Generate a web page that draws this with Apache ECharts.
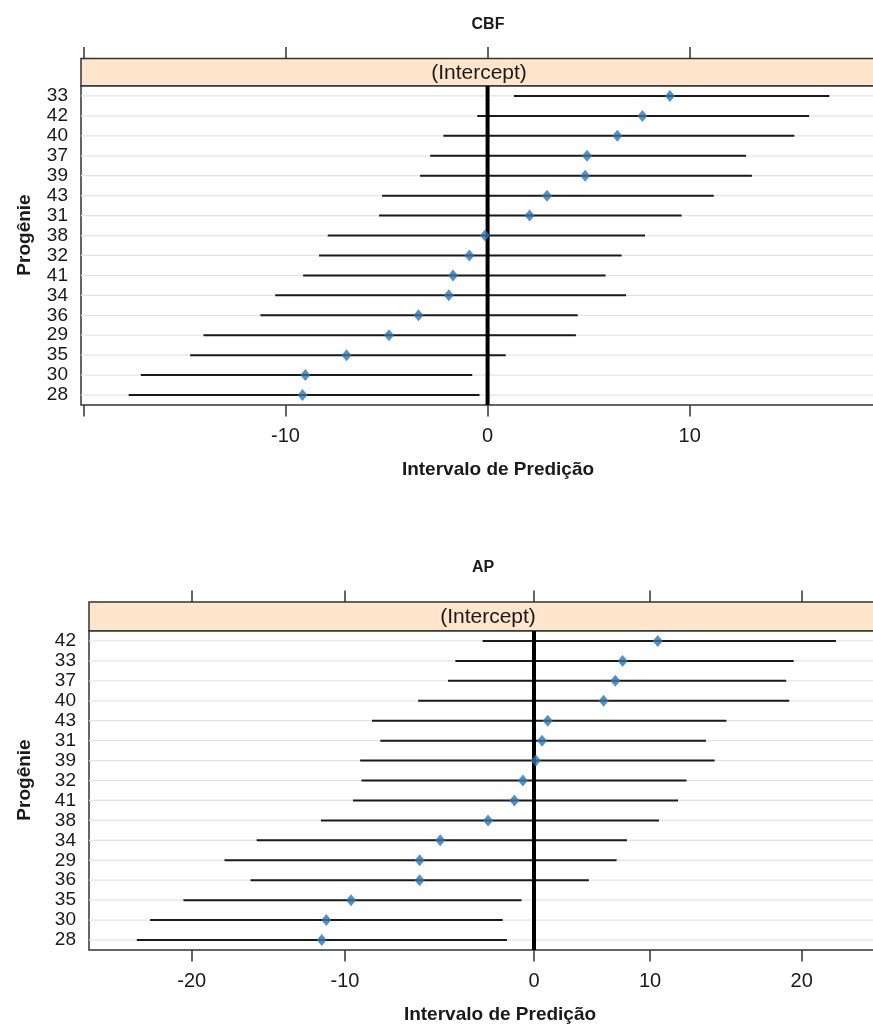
<!DOCTYPE html>
<html><head><meta charset="utf-8">
<script src="https://cdn.jsdelivr.net/npm/echarts@6/dist/echarts.min.js"></script>
<style>html,body{margin:0;padding:0;background:#fff}#c{width:873px;height:1030px}</style>
</head><body><div id="c"></div>
<script>
// ---------- DATA ----------
const cbfCategories = ['33','42','40','37','39','43','31','38','32','41','34','36','29','35','30','28'];
const cbfEstimate = [9.02, 7.66, 6.42, 4.92, 4.83, 2.94, 2.08, -0.13, -0.90, -1.71, -1.92, -3.42, -4.88, -6.98, -9.02, -9.16];
const cbfLower    = [1.30, -0.51, -2.19, -2.84, -3.34, -5.22, -5.37, -7.91, -8.34, -9.13, -10.51, -11.24, -14.06, -14.72, -17.16, -17.76];
const cbfUpper    = [16.91, 15.91, 15.18, 12.79, 13.08, 11.19, 9.60, 7.79, 6.63, 5.84, 6.85, 4.46, 4.37, 0.90, -0.76, -0.40];

const apCategories = ['42','33','37','40','43','31','39','32','41','38','34','29','36','35','30','28'];
const apEstimate = [10.51, 7.64, 7.01, 6.00, 1.18, 0.69, 0.16, -0.59, -1.04, -2.43, -4.96, -6.05, -6.05, -9.68, -11.22, -11.52];
const apLower    = [-2.72, -4.16, -4.55, -6.13, -8.57, -8.13, -9.20, -9.13, -9.58, -11.57, -15.76, -17.86, -16.16, -20.54, -22.71, -23.58];
const apUpper    = [22.26, 19.47, 18.98, 19.18, 15.04, 13.69, 14.26, 12.41, 11.85, 10.59, 8.01, 7.12, 4.73, -0.66, -1.66, -1.43];

const cbfTicks = [-20, -10, 0, 10, 20];
const cbfTickLabels = [-10, 0, 10];
const apTicks = [-20, -10, 0, 10, 20];
const apTickLabels = [-20, -10, 0, 10, 20];
const cbfRange = [-20.12, 21.15];
// the AP axis in the picture is piecewise: each piece has its own linear scale
const apPieces = [[-26.70, -10], [-10, 0], [0, 10], [10, 27.21]];

const panelTitles = ['CBF', 'AP'];
const stripText = '(Intercept)';
const yName = 'Progênie';
const xName = 'Intervalo de Predição';

// ---------- STYLE / LAYOUT ----------
const INK = '#1a1a1a', FRAME = '#333333', POINT = '#2c76b8', GRIDLINE = '#e3e3e3', STRIP = '#ffe5cc';
const FONT = "'Liberation Sans', Arial, sans-serif";
const cbfLayout = {left: 81, width: 834, stripTop: 58.5, top: 86, height: 319};
const apLayout = {left: 89, width: 822, stripTop: 602, top: 631, height: 319};
const apPiecePx = [[89, 345], [345, 534], [534, 650], [650, 911]];

const grids = [], xAxes = [], yAxes = [], series = [];

function addGrid(g) { grids.push(Object.assign({outerBoundsMode: 'none', containLabel: false}, g)); return grids.length - 1; }

function tickAxis(gi, min, max, pos, ticks, labels, offset) {
  const inTicks = ticks.filter(v => v >= min && v < max);
  const ax = {
    gridIndex: gi, type: 'value', position: pos, min: min, max: max, offset: offset || 0,
    axisLine: {show: false}, splitLine: {show: false},
    axisTick: {show: inTicks.length > 0, customValues: inTicks, length: 11.5, inside: false, lineStyle: {color: FRAME, width: 1.5}},
    axisLabel: {show: false}
  };
  if (labels) {
    const inLabels = labels.filter(v => v >= min && v < max);
    ax.axisLabel = {show: inLabels.length > 0, customValues: inLabels, margin: 21, fontSize: 20, fontFamily: FONT, color: INK};
  }
  xAxes.push(ax); return xAxes.length - 1;
}

function catAxis(gi, cats, showLabels) {
  yAxes.push({gridIndex: gi, type: 'category', data: cats, inverse: true, show: showLabels,
    axisLine: {show: false}, axisTick: {show: false}, splitLine: {show: false},
    axisLabel: {show: showLabels, interval: 0, fontSize: 19, fontFamily: FONT, color: INK, margin: 13}});
  return yAxes.length - 1;
}
function hiddenValueAxis(list, gi) { list.push({gridIndex: gi, type: 'value', show: false, min: 0, max: 1, splitLine: {show: false}}); return list.length - 1; }

function gridLines(xi, yi, cats) {
  series.push({type: 'custom', xAxisIndex: xi, yAxisIndex: yi, z: 1, silent: true, clip: false,
    data: cats.map(c => [0, c]), encode: {x: 0, y: 1},
    renderItem(params, api) {
      const cs = params.coordSys; const y = api.coord([api.value(0), api.value(1)])[1];
      return {type: 'line', shape: {x1: cs.x, y1: y, x2: cs.x + cs.width, y2: y}, style: {stroke: GRIDLINE, lineWidth: 1.3}};
    }});
}
function intervals(xi, yi, cats, lo, hi) {
  series.push({type: 'custom', xAxisIndex: xi, yAxisIndex: yi, z: 2, silent: true, clip: true,
    data: cats.map((c, i) => [lo[i], hi[i], c]), encode: {x: [0, 1], y: 2},
    renderItem(params, api) {
      const a = api.coord([api.value(0), api.value(2)]); const b = api.coord([api.value(1), api.value(2)]);
      return {type: 'line', shape: {x1: a[0], y1: a[1], x2: b[0], y2: b[1]}, style: {stroke: INK, lineWidth: 2}};
    }});
}
function zeroLine(xi, yi, cats) {
  series.push({type: 'custom', xAxisIndex: xi, yAxisIndex: yi, z: 3, silent: true, clip: false,
    data: [[0, cats[0]]], encode: {x: 0, y: 1},
    renderItem(params, api) {
      const cs = params.coordSys; const x = api.coord([0, api.value(1)])[0];
      return {type: 'line', shape: {x1: x, y1: cs.y, x2: x, y2: cs.y + cs.height}, style: {stroke: '#000', lineWidth: 4}};
    }});
}
function points(xi, yi, cats, est, keep) {
  series.push({type: 'scatter', xAxisIndex: xi, yAxisIndex: yi, z: 4, silent: true, clip: false,
    symbol: 'diamond', symbolSize: [10, 12], itemStyle: {color: POINT},
    data: cats.map((c, i) => [est[i], c]).filter(d => keep(d[0]))});
}
const xNameStyle = {fontSize: 19, fontWeight: 'bold', fontFamily: FONT, color: INK};

// ---------- CBF panel ----------
const cS = addGrid({left: cbfLayout.left, width: cbfLayout.width, top: cbfLayout.stripTop, height: cbfLayout.top - cbfLayout.stripTop,
  show: true, backgroundColor: STRIP, borderColor: FRAME, borderWidth: 1.5});
hiddenValueAxis(xAxes, cS); hiddenValueAxis(yAxes, cS);
const cM = addGrid({left: cbfLayout.left, width: cbfLayout.width, top: cbfLayout.top, height: cbfLayout.height,
  show: true, backgroundColor: '#fff', borderColor: FRAME, borderWidth: 1.5});
const cX = tickAxis(cM, cbfRange[0], cbfRange[1] + 1e-9, 'bottom', cbfTicks, cbfTickLabels);
Object.assign(xAxes[cX], {name: xName, nameLocation: 'middle', nameGap: 55, nameTextStyle: xNameStyle});
tickAxis(cM, cbfRange[0], cbfRange[1] + 1e-9, 'top', cbfTicks, null, cbfLayout.top - cbfLayout.stripTop);
const cY = catAxis(cM, cbfCategories, true);
gridLines(cX, cY, cbfCategories);
intervals(cX, cY, cbfCategories, cbfLower, cbfUpper);
zeroLine(cX, cY, cbfCategories);
points(cX, cY, cbfCategories, cbfEstimate, () => true);

// ---------- AP panel ----------
const aS = addGrid({left: apLayout.left, width: apLayout.width, top: apLayout.stripTop, height: apLayout.top - apLayout.stripTop,
  show: true, backgroundColor: STRIP, borderColor: FRAME, borderWidth: 1.5});
hiddenValueAxis(xAxes, aS); hiddenValueAxis(yAxes, aS);
const aF = addGrid({left: apLayout.left, width: apLayout.width, top: apLayout.top, height: apLayout.height,
  show: true, backgroundColor: '#fff', borderColor: FRAME, borderWidth: 1.5});
xAxes.push({gridIndex: aF, type: 'value', min: 0, max: 1, axisLine: {show: false}, axisTick: {show: false},
  axisLabel: {show: false}, splitLine: {show: false}, name: xName, nameLocation: 'middle', nameGap: 55, nameTextStyle: xNameStyle});
const aFX = xAxes.length - 1;
const aFY = catAxis(aF, apCategories, true);
gridLines(aFX, aFY, apCategories);
apPieces.forEach((piece, k) => {
  const px = apPiecePx[k];
  const g = addGrid({left: px[0], width: px[1] - px[0], top: apLayout.top, height: apLayout.height, show: false});
  const last = k === apPieces.length - 1;
  const xb = tickAxis(g, piece[0], piece[1] + (last ? 1e-9 : 0), 'bottom', apTicks, apTickLabels);
  tickAxis(g, piece[0], piece[1] + (last ? 1e-9 : 0), 'top', apTicks, null, apLayout.top - apLayout.stripTop);
  const yb = catAxis(g, apCategories, false);
  intervals(xb, yb, apCategories, apLower, apUpper);
  if (piece[0] === 0) zeroLine(xb, yb, apCategories);
  points(xb, yb, apCategories, apEstimate, v => v >= piece[0] && v < piece[1]);
});

// ---------- texts ----------
function txt(x, y, text, font, rot) {
  return {type: 'text', x: x, y: y, rotation: rot || 0, silent: true, z: 10,
    style: {text: text, font: font, fill: INK, align: 'center', verticalAlign: 'middle', textAlign: 'center', textVerticalAlign: 'middle'}};
}
const graphic = [
  txt(488, 25, panelTitles[0], 'bold 16px ' + FONT),
  txt(483, 568, panelTitles[1], 'bold 16px ' + FONT),
  txt(479, 73, stripText, '21px ' + FONT),
  txt(488, 617, stripText, '21px ' + FONT),
  txt(25, 235, yName, 'bold 19px ' + FONT, Math.PI / 2),
  txt(25, 780, yName, 'bold 19px ' + FONT, Math.PI / 2)
];

const chart = echarts.init(document.getElementById('c'), null, {renderer: 'canvas'});
chart.setOption({
  backgroundColor: '#ffffff', animation: false,
  grid: grids, xAxis: xAxes, yAxis: yAxes, series: series, graphic: graphic
});
</script></body></html>
